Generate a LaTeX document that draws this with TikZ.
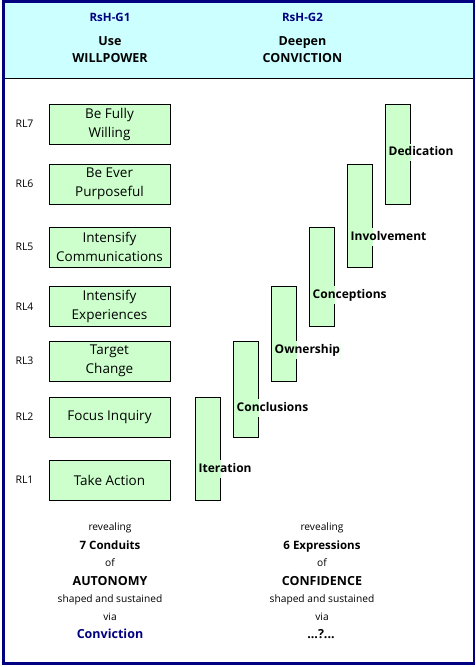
\documentclass[tikz,border=0pt]{standalone}
\usepackage{fontspec}
\setmainfont{Open Sans}
\definecolor{navy}{RGB}{0,0,128}
\definecolor{hdrcyan}{RGB}{204,255,255}
\definecolor{boxgreen}{RGB}{204,255,204}
\tikzset{
  txt/.style={inner sep=0pt, text depth=0pt},
  rlbox/.style={draw=black, line width=1pt, fill=boxgreen, minimum width=121pt, minimum height=40pt,
    inner sep=0pt, align=center, font=\fontsize{13.5}{19}\selectfont},
  rllab/.style={txt, text height=7.5pt, font=\fontsize{10.5}{12}\selectfont},
  bar/.style={draw=black, line width=1pt, fill=boxgreen, minimum width=25pt, inner sep=0pt},
  barlab/.style={anchor=west, font=\bfseries\fontsize{12}{14}\selectfont, fill=boxgreen,
    inner xsep=0.5pt, inner ysep=2.8pt, text height=8.8pt, text depth=2.8pt,
    path picture={\fill[white] (#1.east |- path picture bounding box.south) rectangle (path picture bounding box.north east);}},
  hdrid/.style={txt, text height=8.2pt, text=navy, font=\bfseries\fontsize{11.5}{13}\selectfont},
  hdrtxt/.style={txt, text height=9pt, font=\bfseries\fontsize{12.5}{14}\selectfont},
  smalltxt/.style={txt, text height=7.3pt, font=\fontsize{10.2}{12}\selectfont},
  boldtxt/.style={txt, text height=8.5pt, font=\bfseries\fontsize{11.5}{13}\selectfont},
  bigtxt/.style={txt, text height=9pt, font=\bfseries\fontsize{12.5}{14}\selectfont},
}
\begin{document}
\begin{tikzpicture}[x=1pt,y=-1pt]
\useasboundingbox (0,0) rectangle (475,667);
% header band
\fill[hdrcyan] (3,2) rectangle (473,78);
\draw[black, line width=1.3pt] (3,78.3) -- (473,78.3);
% frame
\draw[navy, line width=2.6pt] (3.2,1.5) rectangle (473.8,663.5);

% header texts
\node[hdrid] (g1id) at (110,17) {RsH-G1};
\node[hdrtxt] (g1a) at (110,41) {Use};
\node[hdrtxt] (g1b) at (110,58) {WILLPOWER};
\node[hdrid] (g2id) at (302.5,17) {RsH-G2};
\node[hdrtxt] (g2a) at (302.5,41) {Deepen};
\node[hdrtxt] (g2b) at (302.5,58) {CONVICTION};

% left boxes
\node[rlbox] (c7) at (109.5,124) {Be Fully\\Willing};
\node[rlbox] (c6) at (109.5,184) {Be Ever\\Purposeful};
\node[rlbox] (c5) at (109.5,247) {Intensify\\Communications};
\node[rlbox] (c4) at (109.5,306.5) {Intensify\\Experiences};
\node[rlbox] (c3) at (109.5,361) {Target\\Change};
\node[rlbox] (c2) at (109.5,417) {Focus Inquiry};
\node[rlbox] (c1) at (109.5,480) {Take Action};

% RL labels
\node[rllab] (rl7) at (24.5,124) {RL7};
\node[rllab] (rl6) at (24.5,184) {RL6};
\node[rllab] (rl5) at (24.5,247) {RL5};
\node[rllab] (rl4) at (24.5,306.5) {RL4};
\node[rllab] (rl3) at (24.5,361) {RL3};
\node[rllab] (rl2) at (24.5,417) {RL2};
\node[rllab] (rl1) at (24.5,480) {RL1};

% bars
\node[bar, minimum height=103pt] (b1) at (207.5,448.5) {};
\node[bar, minimum height=96pt] (b2) at (245.5,389) {};
\node[bar, minimum height=95pt] (b3) at (283.5,333.5) {};
\node[bar, minimum height=99pt] (b4) at (321.5,276.5) {};
\node[bar, minimum height=103pt] (b5) at (359.5,215.5) {};
\node[bar, minimum height=100pt] (b6) at (397.5,154) {};

\node[barlab=b1] (l1) at (198,469) {Iteration};
\node[barlab=b2] (l2) at (236,408) {Conclusions};
\node[barlab=b3] (l3) at (274,350) {Ownership};
\node[barlab=b4] (l4) at (312,295) {Conceptions};
\node[barlab=b5] (l5) at (350,237) {Involvement};
\node[barlab=b6] (l6) at (388,152.3) {Dedication};

% bottom texts, left
\node[smalltxt] (la) at (110,527) {revealing};
\node[boldtxt] (lb) at (110,545) {7 Conduits};
\node[smalltxt] (lc) at (110,563) {of};
\node[bigtxt] (ld) at (110,581) {AUTONOMY};
\node[smalltxt] (le) at (110,599) {shaped and sustained};
\node[smalltxt] (lf) at (110,617) {via};
\node[bigtxt, text=navy] (lg) at (110,634) {Conviction};
% bottom texts, right
\node[smalltxt] (ra) at (322,527) {revealing};
\node[boldtxt] (rb) at (322,545) {6 Expressions};
\node[smalltxt] (rc) at (322,563) {of};
\node[bigtxt] (rd) at (322,581) {CONFIDENCE};
\node[smalltxt] (re) at (322,599) {shaped and sustained};
\node[smalltxt] (rf) at (322,617) {via};
\node[bigtxt] (rg) at (321,634) {...?...};
\end{tikzpicture}
\end{document}
